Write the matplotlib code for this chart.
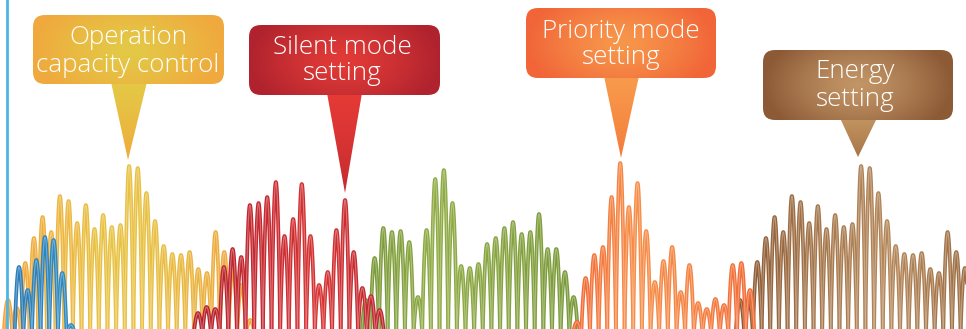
import numpy as np
import matplotlib.pyplot as plt
from matplotlib.colors import LinearSegmentedColormap, to_rgb
from matplotlib.patches import FancyBboxPatch, Polygon

# spacing between humps (px) and pixel row of the wave baseline
step = 8.65
base = 336

# hump heights above baseline, one list per group, with x of first hump
blue_x0 = 19
blue_h = [69, 46, 76, 99, 96, 63, 11]

yellow_x0 = 8
yellow_h = [36, 28, 73, 98, 119, 104, 140, 135, 113, 131, 107, 121, 109, 111,
            170, 168, 143, 115, 90, 82, 81, 84, 67, 63, 104, 84, 68, 51, 16]

red_x0 = 198
red_h = [23, 29, 27, 69, 87, 79, 131, 133, 139, 154, 100, 117, 152, 100,
         51, 64, 106, 136, 84, 48, 40, 26]

green_x0 = 366
green_h = [36, 78, 108, 104, 105, 94, 39, 106, 157, 166, 133, 70, 68, 72,
           92, 98, 108, 114, 102, 104, 122, 87, 87, 64, 39]

orange_x0 = 577
orange_h = [14, 58, 81, 89, 139, 173, 129, 153, 105, 54, 75, 89, 44, 71,
            33, 27, 37, 31, 71, 73, 46]

brown_x0 = 740
brown_h = [36, 36, 74, 98, 119, 104, 140, 134, 113, 130, 107, 121, 109, 112,
           170, 168, 143, 115, 90, 82, 81, 83, 67, 63, 104, 84, 68]

# callouts: label, box (x0, y0, x1, y1 in px), pointer base x, tip (x, y)
labels = ["Operation\ncapacity control", "Silent mode\nsetting",
          "Priority mode\nsetting", "Energy\nsetting"]
boxes = [(33, 15, 224, 84), (249, 25, 440, 95), (526, 8, 716, 78), (763, 50, 953, 120)]
ptr_base = [(111, 147), (327, 362), (604, 639), (840, 877)]
tips = [(128, 160), (345, 193), (621, 158), (858, 157)]
box_cols = [("#e3c946", "#f0a93e"), ("#e23b37", "#b0232e"),
            ("#f7974b", "#f16538"), ("#c29566", "#8d5a36")]
ptr_cols = [("#e4c846", "#efab3a"), ("#e53a36", "#c52b30"),
            ("#f89a4b", "#f47b3c"), ("#c0935f", "#a87448")]

groups = [
    (yellow_x0, yellow_h, ["#f2a33a", "#edb53e", "#e8c242", "#e8c042", "#eab23f", "#f2a23a"], 1),
    (blue_x0, blue_h, ["#2a7db8", "#2f8bc2"], 2),
    (red_x0, red_h, ["#b5222d", "#c5272f", "#d63333", "#c0262e"], 3),
    (green_x0, green_h, ["#789838", "#8fab44", "#86a340", "#7a9a39"], 2.5),
    (brown_x0, brown_h, ["#8a5731", "#a4754a", "#b4875a", "#9e6f45"], 3),
    (orange_x0, orange_h, ["#f26834", "#f68e48", "#f58242", "#f26a36"], 4),
]

fig = plt.figure(figsize=(9.66, 3.29), dpi=100)
ax = fig.add_axes([0, 0, 1, 1])
ax.axis("off")

t = np.linspace(0, 1, 50)
for x0, hs, cols, z in groups:
    cmap = LinearSegmentedColormap.from_list("g", cols)
    n = len(hs)
    for i, h in enumerate(hs):
        xc = x0 + i * step
        xs = xc + (t - 0.5) * step
        ys = h * np.sin(np.pi * t) ** 0.8
        c = cmap(i / max(n - 1, 1))
        ax.plot(xs, ys, color=c, lw=2.7, solid_capstyle="round", zorder=z)
        light = tuple(0.55 * np.array(c[:3]) + 0.45)
        ax.plot(xs, ys, color=light, lw=0.8, alpha=0.75, zorder=z + 0.01)

ax.axvline(7, color="#4db5e5", lw=2, zorder=6)


def v(ypx):
    return base - ypx


def gradient_fill(patch, extent, c_in, c_out, mode):
    x0, x1, y0, y1 = extent
    nx, ny = 120, 60
    gx, gy = np.meshgrid(np.linspace(-1, 1, nx), np.linspace(-1, 1, ny))
    if mode == "radial":
        d = np.clip(np.sqrt(gx ** 2 + (gy * 0.6) ** 2), 0, 1) ** 1.3
    else:
        d = (1 - (gy + 1) / 2) ** 1.2  # 0 at top (box side), 1 at tip
    a, b = np.array(to_rgb(c_in)), np.array(to_rgb(c_out))
    img = a[None, None, :] * (1 - d[..., None]) + b[None, None, :] * d[..., None]
    im = ax.imshow(img, extent=(x0, x1, y0, y1), origin="lower", aspect="auto",
                   interpolation="bilinear", zorder=7)
    im.set_clip_path(patch)


for lab, (bx0, by0, bx1, by1), (p0, p1), (tx, ty), bc, pc in zip(
        labels, boxes, ptr_base, tips, box_cols, ptr_cols):
    tri = Polygon([(p0, v(by1) + 2), (p1, v(by1) + 2), (tx, v(ty))],
                  closed=True, facecolor="none", edgecolor="none")
    ax.add_patch(tri)
    gradient_fill(tri, (p0, p1, v(ty), v(by1) + 2), pc[0], pc[1], "vertical")
    box = FancyBboxPatch((bx0, v(by1)), bx1 - bx0, by1 - by0,
                         boxstyle="round,pad=0,rounding_size=12",
                         facecolor="none", edgecolor="none")
    ax.add_patch(box)
    gradient_fill(box, (bx0, bx1, v(by1), v(by0)), bc[0], bc[1], "radial")

# font size fitted so that the widest line is about 183 px wide
probe = ax.text(0, 0, "capacity control", fontsize=10, family="Open Sans", fontweight="light")
fig.canvas.draw()
w = probe.get_window_extent().width
probe.remove()
fs = 10 * 183 / w

centers = [(128, 38, 65), (342, 48, 74), (621, 31, 57), (855, 72, 99)]
for lab, (cx, y1, y2) in zip(labels, centers):
    l1, l2 = lab.split("\n")
    for s, yy in ((l1, y1), (l2, y2)):
        ax.text(cx, v(yy), s, color="white", fontsize=fs, family="Open Sans",
                fontweight="light", ha="center", va="center", zorder=9)

ax.set_xlim(0, 966)
ax.set_ylim(v(329), v(0))
fig.savefig("out.png", dpi=100)
